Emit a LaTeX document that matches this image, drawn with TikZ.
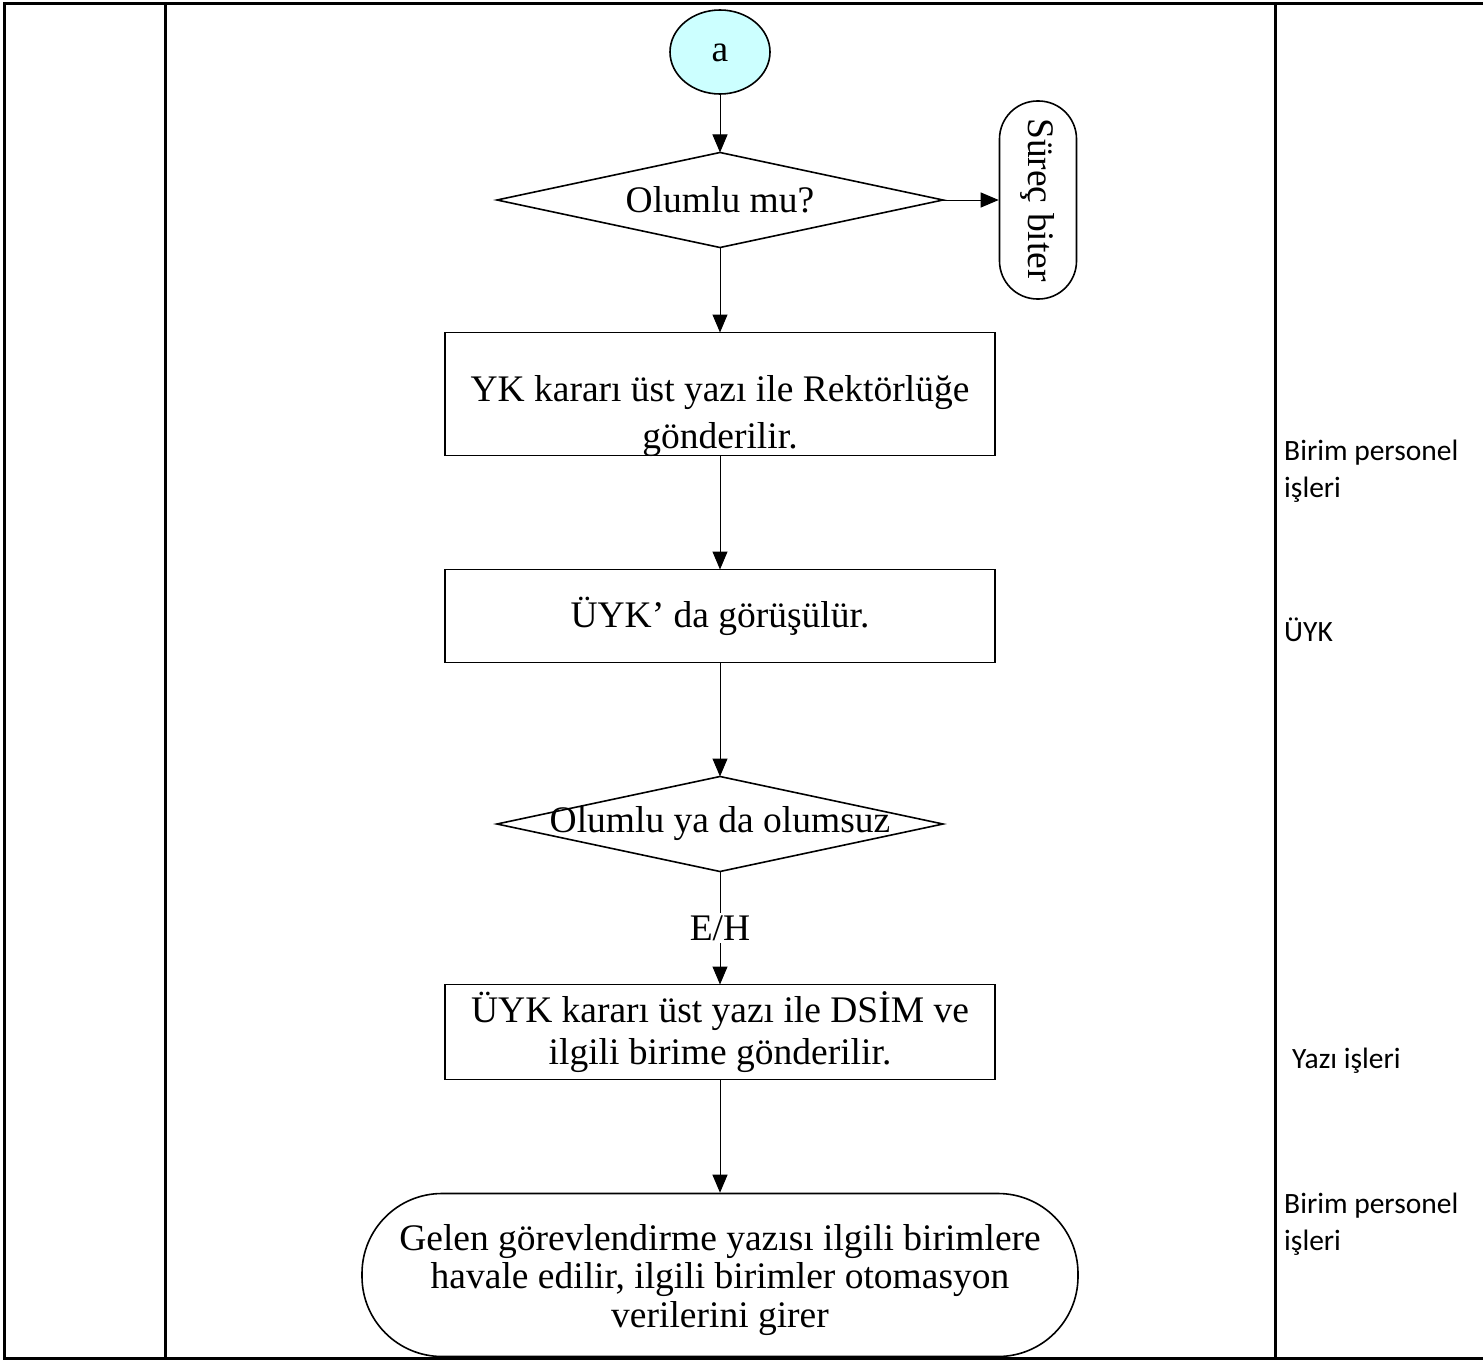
\documentclass[tikz,border=0pt]{standalone}
\usepackage{fontspec}
\setmainfont{Liberation Serif}
\newfontfamily\lanefont{Carlito}
\usetikzlibrary{arrows.meta,shapes.geometric}
\definecolor{startcyan}{HTML}{CCFFFF}
\begin{document}
\begin{tikzpicture}[x=1pt,y=-1pt,
  flow/.style={line width=1pt, -{Triangle[length=18pt,width=15pt]}},
  frame/.style={line width=3pt},
  shapeline/.style={line width=1.6pt},
  maintext/.style={font=\fontsize{37.5}{44}\selectfont},
  stepbox/.style={draw, shapeline, maintext, minimum width=550pt, inner sep=0pt, outer sep=0pt, align=center},
  boxtext/.style={maintext, align=center, inner sep=0pt},
  decision/.style={maintext, minimum width=446pt, minimum height=95pt, inner sep=0pt, outer sep=0pt},
  lane/.style={anchor=north west, align=left, inner sep=0pt, font=\lanefont\fontsize{29.5}{37}\selectfont}
]
\useasboundingbox (0,0) rectangle (1483,1362);

% table frame
\draw[frame] (1483,4) -- (4,4) -- (4,1358) -- (1483,1358);
\draw[frame] (165,4) -- (165,1358);
\draw[frame] (1275,4) -- (1275,1358);

% flow nodes
\node[ellipse, draw, shapeline, fill=startcyan, minimum width=100pt, minimum height=84pt, inner sep=0pt, maintext, text height=20pt, text depth=0pt] (a) at (720,52) {a};

\node[decision] (d1) at (720,200) {Olumlu mu?};
\draw[shapeline] (d1.north) -- (d1.east) -- (d1.south) -- (d1.west) -- cycle;

\node[draw, shapeline, maintext, rounded corners=38pt, minimum width=198pt, minimum height=77pt, inner sep=0pt, rotate=-90] (sb) at (1038,200) {Süreç biter};

\node[stepbox, minimum height=123pt] (b1) at (720,394) {};
\node[boxtext, font=\fontsize{37.5}{47}\selectfont] (b1txt) at (720,416) {YK kararı üst yazı ile Rektörlüğe\\gönderilir.};

\node[stepbox, minimum height=93pt] (b2) at (720,616) {ÜYK’ da görüşülür.};

\node[decision] (d2) at (720,824) {Olumlu ya da olumsuz};
\draw[shapeline] (d2.north) -- (d2.east) -- (d2.south) -- (d2.west) -- cycle;

\node[stepbox, minimum height=95pt, font=\fontsize{37.5}{42}\selectfont] (b3) at (720,1032) {ÜYK kararı üst yazı ile DSİM ve\\ilgili birime gönderilir.};

\node[draw, shapeline, rounded corners=80pt, minimum width=716pt, minimum height=163pt, inner sep=0pt] (t) at (720,1275) {};
\node[boxtext, font=\fontsize{37.5}{38.5}\selectfont] (ttxt) at (720,1280) {Gelen görevlendirme yazısı ilgili birimlere\\havale edilir, ilgili birimler otomasyon\\verilerini girer};

% connectors
\draw[flow] (a) -- (d1.north);
\draw[flow] (d1.east) -- (sb.south);
\draw[flow] (d1.south) -- (b1);
\draw[flow] (b1) -- (b2);
\draw[flow] (b2) -- (d2.north);
\draw[flow] (d2.south) -- node[fill=white, maintext, inner sep=2pt] (eh) {E/H} (b3);
\draw[flow] (b3) -- (t);

% responsible units
\node[lane] (l1) at (1284,440) {Birim personel\\işleri};
\node[lane] (l2) at (1284,618) {ÜYK};
\node[lane] (l3) at (1292,1048) {Yazı işleri};
\node[lane] (l4) at (1284,1193) {Birim personel\\işleri};
\end{tikzpicture}
\end{document}
